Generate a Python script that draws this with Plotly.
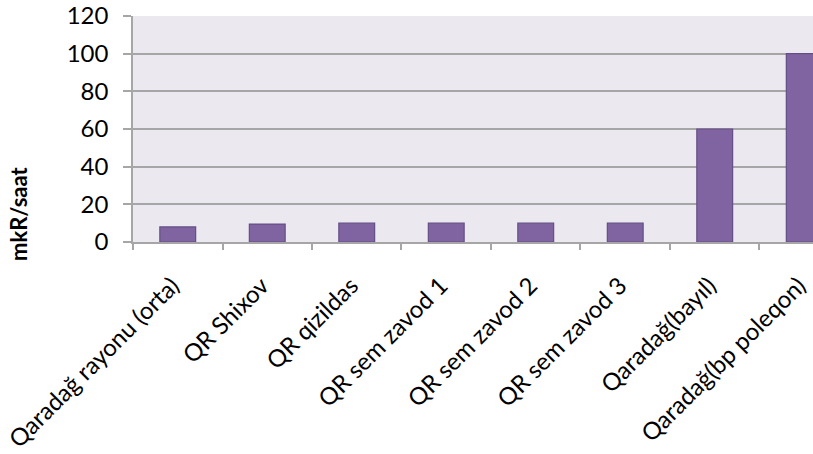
import plotly.graph_objects as go

# Dose rate by sampling site
sites = [
    "Qaradağ rayonu (orta)",
    "QR Shixov",
    "QR qizildas",
    "QR sem zavod 1",
    "QR sem zavod 2",
    "QR sem zavod 3",
    "Qaradağ(bayıl)",
    "Qaradağ(bp poleqon)",
]
dose_rate = [8, 9.5, 10, 10, 10, 10, 60, 100]
y_ticks = [0, 20, 40, 60, 80, 100, 120]

FONT = "Lato"
GRID = "#A6A6A6"
X_RANGE = [-0.5, 7.098]
LABEL_SHIFT = 0.06  # nudges the rotated category labels so their ends sit under the bars

positions = list(range(len(sites)))

fig = go.Figure(
    go.Bar(
        x=positions,
        y=dose_rate,
        width=0.4,
        marker=dict(color="#8064A2", line=dict(color="#654E86", width=1.2)),
    )
)

fig.update_layout(
    width=813,
    height=454,
    margin=dict(l=133, r=0, t=16, b=212, autoexpand=False),
    paper_bgcolor="white",
    plot_bgcolor="#EBE8EF",
    showlegend=False,
    font=dict(family=FONT, color="#000000", size=22),
    bargap=0.6,
    # Category axis: tick marks on the category boundaries
    xaxis=dict(
        range=X_RANGE,
        tickmode="array",
        tickvals=[p - 0.5 for p in positions],
        showticklabels=False,
        ticks="outside",
        ticklen=6,
        tickwidth=1.5,
        tickcolor=GRID,
        showline=True,
        linecolor=GRID,
        linewidth=1.5,
        showgrid=False,
        zeroline=False,
        automargin=False,
    ),
    # Overlay axis carrying the rotated category names
    xaxis2=dict(
        overlaying="x",
        anchor="y",
        side="bottom",
        range=[X_RANGE[0] + LABEL_SHIFT, X_RANGE[1] + LABEL_SHIFT],
        tickmode="array",
        tickvals=positions,
        ticktext=sites,
        tickangle=-45,
        ticks="",
        showline=False,
        showgrid=False,
        zeroline=False,
        automargin=False,
        ticklabeloverflow="allow",
        tickfont=dict(family=FONT, size=24, color="#000000"),
        ticklabelstandoff=24,
    ),
    yaxis=dict(
        range=[0, 120],
        tickmode="array",
        tickvals=y_ticks,
        ticks="outside",
        ticklen=8,
        tickwidth=1.5,
        tickcolor=GRID,
        showline=True,
        linecolor=GRID,
        linewidth=1.5,
        showgrid=True,
        gridcolor=GRID,
        gridwidth=1.8,
        zeroline=False,
        automargin=False,
        tickfont=dict(family=FONT, size=24, color="#000000"),
        ticklabelstandoff=10,
    ),
)

# Invisible trace so the label axis is drawn
fig.add_trace(
    go.Scatter(x=positions, y=[None] * len(positions), xaxis="x2", yaxis="y",
               mode="markers", hoverinfo="skip", showlegend=False)
)

# Axis title placed at the left edge of the figure
fig.add_annotation(
    text="<b>mkR/saat</b>",
    xref="paper",
    yref="paper",
    x=(18 - 133) / 680,
    y=(242 - 214) / 226,
    xanchor="center",
    yanchor="middle",
    textangle=-90,
    showarrow=False,
    font=dict(family=FONT, size=22, color="#000000"),
)

fig.write_html("out.html")
